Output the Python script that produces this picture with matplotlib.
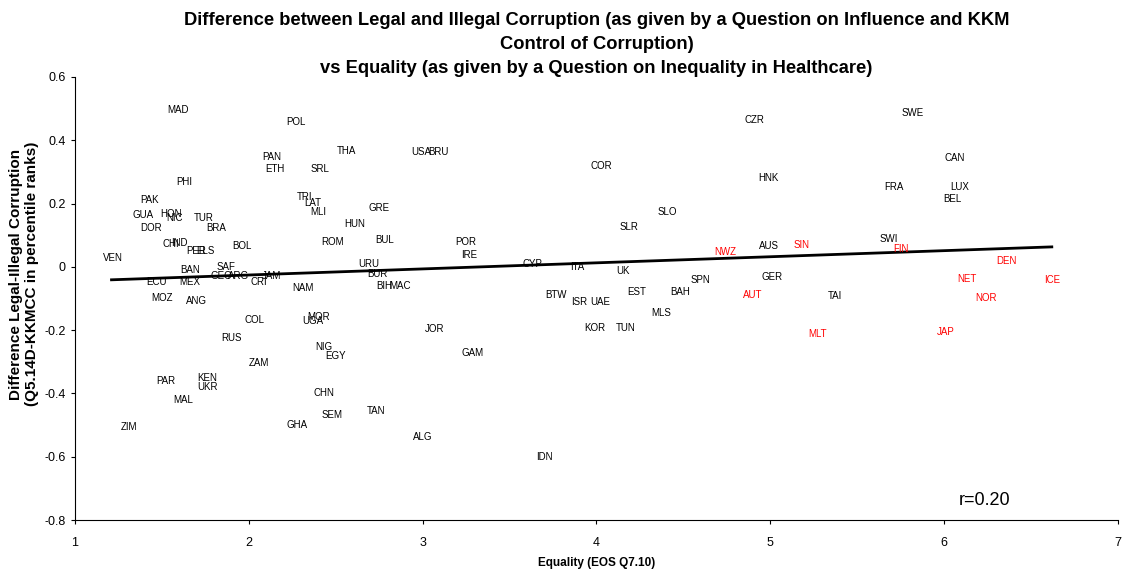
import numpy as np
import matplotlib
matplotlib.use("Agg")
import matplotlib.pyplot as plt

plt.rcParams['font.family'] = ['Liberation Sans', 'DejaVu Sans']

# country labels (black) - equality score, legal-illegal difference
black_names = ['MAD', 'POL', 'PAN', 'ETH', 'THA', 'SRL', 'PHI', 'PAK', 'GUA', 'HON',
               'NIC', 'TUR', 'DOR', 'BRA', 'CHI', 'IND', 'PER', 'ELS', 'BOL', 'VEN',
               'BAN', 'SAF', 'GEO', 'ARG', 'JAM', 'CRI', 'ECU', 'MEX', 'MOZ', 'ANG',
               'NAM', 'COL', 'RUS', 'MOR', 'UGA', 'NIG', 'EGY', 'ZAM', 'PAR', 'KEN',
               'UKR', 'MAL', 'ZIM', 'CHN', 'SEM', 'TAN', 'GHA', 'ALG', 'USA', 'BRU',
               'TRI', 'LAT', 'MLI', 'GRE', 'HUN', 'ROM', 'BUL', 'POR', 'IRE', 'URU',
               'BUR', 'BIH', 'MAC', 'JOR', 'GAM', 'COR', 'SLO', 'SLR', 'CYP', 'ITA',
               'UK', 'BTW', 'ISR', 'UAE', 'EST', 'BAH', 'MLS', 'KOR', 'TUN', 'IDN',
               'AUS', 'SPN', 'GER', 'CZR', 'SWE', 'CAN', 'HNK', 'FRA', 'LUX', 'BEL',
               'SWI', 'TAI']
black_x = [1.59, 2.27, 2.13, 2.15, 2.56, 2.41, 1.63, 1.43, 1.39, 1.55,
           1.57, 1.74, 1.44, 1.81, 1.55, 1.60, 1.70, 1.75, 1.96, 1.22,
           1.66, 1.87, 1.84, 1.94, 2.13, 2.06, 1.47, 1.66, 1.50, 1.70,
           2.31, 2.03, 1.90, 2.40, 2.37, 2.43, 2.50, 2.06, 1.52, 1.76,
           1.76, 1.62, 1.31, 2.43, 2.48, 2.73, 2.28, 3.00, 2.99, 3.09,
           2.32, 2.37, 2.40, 2.75, 2.61, 2.48, 2.78, 3.25, 3.27, 2.69,
           2.74, 2.78, 2.87, 3.07, 3.29, 4.03, 4.41, 4.19, 3.63, 3.89,
           4.15, 3.77, 3.90, 4.02, 4.23, 4.48, 4.37, 3.99, 4.17, 3.70,
           4.99, 4.60, 5.01, 4.91, 5.82, 6.06, 4.99, 5.71, 6.09, 6.05,
           5.68, 5.37]
black_y = [0.496, 0.458, 0.347, 0.309, 0.366, 0.309, 0.268, 0.212, 0.164, 0.167,
           0.155, 0.155, 0.123, 0.123, 0.073, 0.076, 0.051, 0.051, 0.066, 0.028,
           -0.009, 0.000, -0.028, -0.028, -0.028, -0.047, -0.047, -0.047, -0.098, -0.107,
           -0.066, -0.167, -0.224, -0.158, -0.171, -0.253, -0.281, -0.303, -0.360, -0.351,
           -0.379, -0.420, -0.505, -0.398, -0.467, -0.457, -0.499, -0.537, 0.362, 0.362,
           0.221, 0.202, 0.174, 0.186, 0.136, 0.079, 0.085, 0.079, 0.038, 0.009,
           -0.022, -0.060, -0.060, -0.196, -0.271, 0.319, 0.174, 0.126, 0.009, 0.000,
           -0.013, -0.088, -0.110, -0.110, -0.079, -0.079, -0.145, -0.193, -0.193, -0.600,
           0.066, -0.041, -0.032, 0.465, 0.486, 0.344, 0.281, 0.253, 0.253, 0.215,
           0.088, -0.091]

# countries shown in red
red_names = ['NWZ', 'SIN', 'FIN', 'DEN', 'AUT', 'NET', 'ICE', 'NOR', 'MLT', 'JAP']
red_x = [4.74, 5.18, 5.75, 6.36, 4.90, 6.13, 6.62, 6.24, 5.27, 6.01]
red_y = [0.047, 0.069, 0.057, 0.019, -0.088, -0.038, -0.041, -0.098, -0.212, -0.205]

# linear trend line as drawn in the original
trend_x = [1.21, 6.62]
trend_y = [-0.041, 0.063]

xticks = [1, 2, 3, 4, 5, 6, 7]
yticks = [0.6, 0.4, 0.2, 0.0, -0.2, -0.4, -0.6, -0.8]
ytick_labels = ['0.6', '0.4', '0.2', '0', '-0.2', '-0.4', '-0.6', '-0.8']

fig, ax = plt.subplots(figsize=(11.28, 5.74), dpi=100)
plt.subplots_adjust(left=0.0665, right=0.991, top=0.866, bottom=0.094)

ax.plot(trend_x, trend_y, color='black', linewidth=2)

for n, x, y in zip(black_names, black_x, black_y):
    ax.text(x, y, n, fontsize=7, color='black', ha='center', va='center')
for n, x, y in zip(red_names, red_x, red_y):
    ax.text(x, y, n, fontsize=7, color='red', ha='center', va='center')

ax.set_xlim(1, 7)
ax.set_ylim(-0.8, 0.6)
ax.set_xticks(xticks)
ax.set_yticks(yticks)
ax.set_yticklabels(ytick_labels)
ax.tick_params(labelsize=9, direction='out', length=3)
ax.tick_params(axis='x', pad=9)
ax.spines['top'].set_visible(False)
ax.spines['right'].set_visible(False)

ax.set_xlabel('Equality (EOS Q7.10)', fontsize=8.5, fontweight='bold', labelpad=6)
ax.set_ylabel('Difference Legal-Illegal Corruption\n(Q5.14D-KKMCC in percentile ranks)',
              fontsize=11, fontweight='bold')
ax.yaxis.set_label_coords(-0.0345, 0.555)

ax.set_title('Difference between Legal and Illegal Corruption (as given by a Question on Influence and KKM\n'
             'Control of Corruption)\n'
             'vs Equality (as given by a Question on Inequality in Healthcare)',
             fontsize=13.2, fontweight='bold', linespacing=1.55, pad=1)

ax.text(0.872, 0.045, 'r=0.20', transform=ax.transAxes, fontsize=13, ha='center', va='center')

fig.savefig('out.png', dpi=100)
